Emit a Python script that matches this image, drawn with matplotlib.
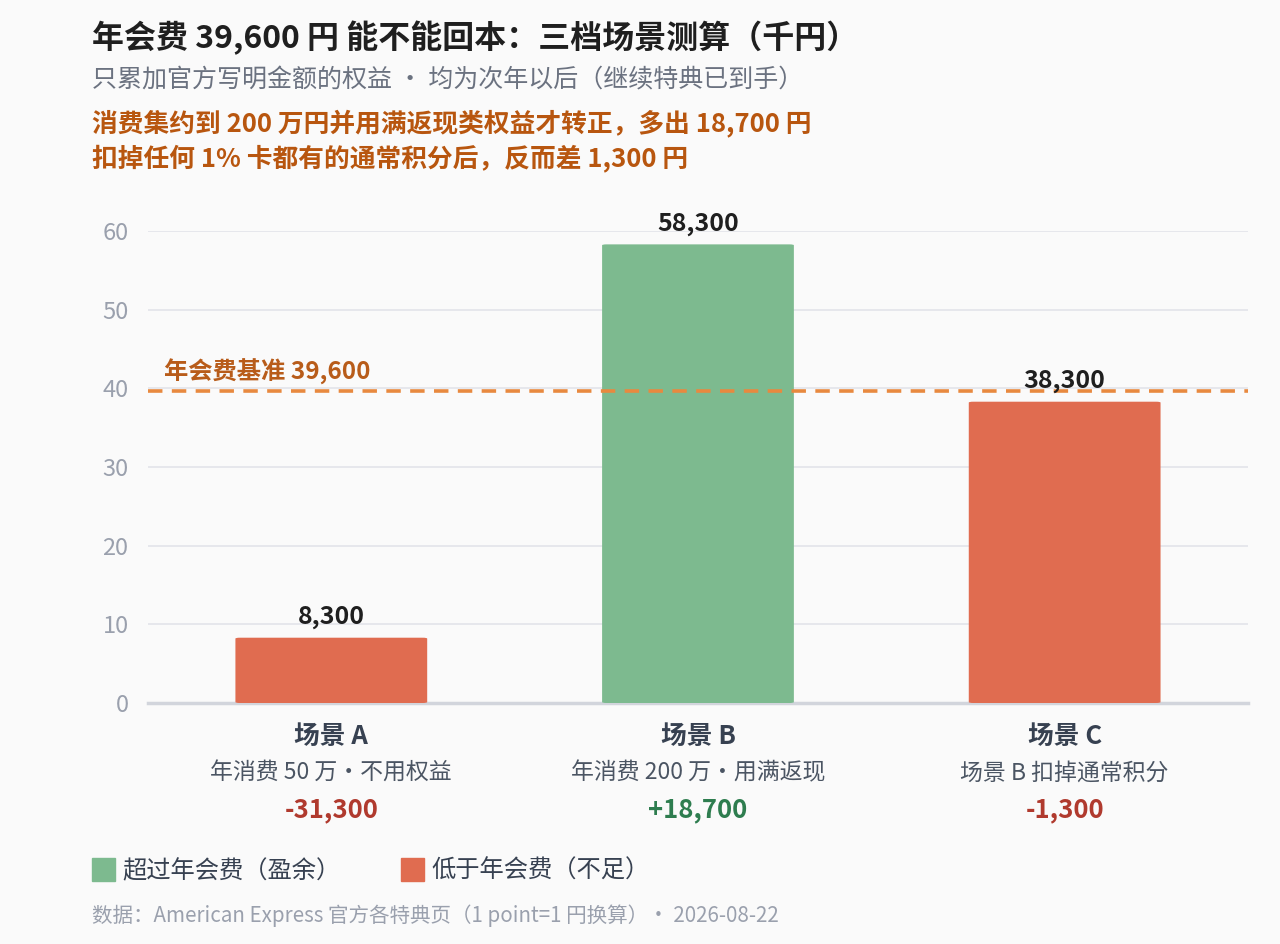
import matplotlib.pyplot as plt
from matplotlib.patches import Patch, FancyBboxPatch
from matplotlib.transforms import blended_transform_factory

plt.rcParams['font.family'] = ['Noto Sans CJK SC', 'DejaVu Sans']

# data (thousand yen)
scenarios = ['场景 A', '场景 B', '场景 C']
descs = ['年消费 50 万・不用权益', '年消费 200 万・用满返现', '场景 B 扣掉通常积分']
values = [8.3, 58.3, 38.3]
value_labels = ['8,300', '58,300', '38,300']
fee = 39.6
deltas = ['-31,300', '+18,700', '-1,300']

GREEN = '#7dba8f'
RED = '#e06c50'
BG = '#fafafa'

fig = plt.figure(figsize=(12.8, 9.44), dpi=100, facecolor=BG)
ax = fig.add_axes([0.1156, 0.2553, 0.8594, 0.5])
ax.set_facecolor(BG)

colors = [GREEN if v >= fee else RED for v in values]
x = range(len(values))
bars = ax.bar(x, values, width=0.523, color=colors, zorder=3)
# slightly rounded corners
for b in bars:
    b.set_visible(False)
    ax.add_patch(FancyBboxPatch((b.get_x(), b.get_y()), b.get_width(), b.get_height(),
                                boxstyle='round,pad=0,rounding_size=0.012',
                                mutation_aspect=60 / 3 * 0.5 * 1100 / 472 / 2.5,
                                fc=b.get_facecolor(), ec='none', zorder=3))

for xi, v, lab in zip(x, values, value_labels):
    ax.annotate(lab, (xi, v), xytext=(0, 6), textcoords='offset points',
                ha='center', va='bottom', fontsize=18, fontweight='bold',
                color='#1f1f1f', zorder=5)

ax.axhline(fee, color='#e8893f', lw=2.6, ls=(0, (4, 2.6)), zorder=4)
ax.annotate('年会费基准 39,600', (-0.455, fee), xytext=(0, 5),
            textcoords='offset points', ha='left', va='bottom',
            fontsize=17.5, fontweight='bold', color='#b85c1a')

ax.set_xlim(-0.5, 2.5)
ax.set_ylim(0, 60)
ax.set_yticks([0, 10, 20, 30, 40, 50, 60])
ax.yaxis.grid(True, color='#e4e6eb', lw=1.3, zorder=0)
ax.set_axisbelow(True)
for s in ['top', 'right', 'left']:
    ax.spines[s].set_visible(False)
ax.spines['bottom'].set_color('#d2d5dc')
ax.spines['bottom'].set_linewidth(2.5)
ax.tick_params(axis='y', length=0, labelsize=17, labelcolor='#9aa0ad', pad=14)
ax.set_xticks([])

tr = blended_transform_factory(ax.transData, fig.transFigure)
for xi, name, d, dl, v in zip(x, scenarios, descs, deltas, values):
    ax.text(xi, 1 - 737 / 944, name, transform=tr, ha='center', va='center',
            fontsize=18.5, fontweight='bold', color='#374151')
    ax.text(xi, 1 - 773 / 944, d, transform=tr, ha='center', va='center',
            fontsize=16.5, color='#4b5563')
    ax.text(xi, 1 - 810 / 944, dl, transform=tr, ha='center', va='center',
            fontsize=18.5, fontweight='bold',
            color='#2e7d4f' if v >= fee else '#b03a2e')

# titles
fig.text(92 / 1280, 1 - 38 / 944, '年会费 39,600 円 能不能回本：三档场景测算（千円）',
         fontsize=23, fontweight='bold', color='#1f1f1f', va='center')
fig.text(92 / 1280, 1 - 80 / 944, '只累加官方写明金额的权益 ・ 均为次年以后（继续特典已到手）',
         fontsize=18, color='#6b7280', va='center')
fig.text(92 / 1280, 1 - 123 / 944, '消费集约到 200 万円并用满返现类权益才转正，多出 18,700 円',
         fontsize=18.5, fontweight='bold', color='#b8560f', va='center')
fig.text(92 / 1280, 1 - 158 / 944, '扣掉任何 1% 卡都有的通常积分后，反而差 1,300 円',
         fontsize=18.5, fontweight='bold', color='#b8560f', va='center')

handles = [Patch(color=GREEN, label='超过年会费（盈余）'),
           Patch(color=RED, label='低于年会费（不足）')]
fig.legend(handles=handles, loc='center left', bbox_to_anchor=(70 / 1280, 1 - 871 / 944),
           ncol=2, frameon=False, fontsize=17.5, labelcolor='#374151',
           handlelength=0.95, handleheight=1.1, handletextpad=0.3, columnspacing=2.48)

fig.text(92 / 1280, 1 - 916 / 944,
         '数据：American Express 官方各特典页（1 point=1 円换算）・ 2026-08-22',
         fontsize=14.8, color='#9aa0ad', va='center')

fig.savefig('out.png', dpi=100, facecolor=BG)
